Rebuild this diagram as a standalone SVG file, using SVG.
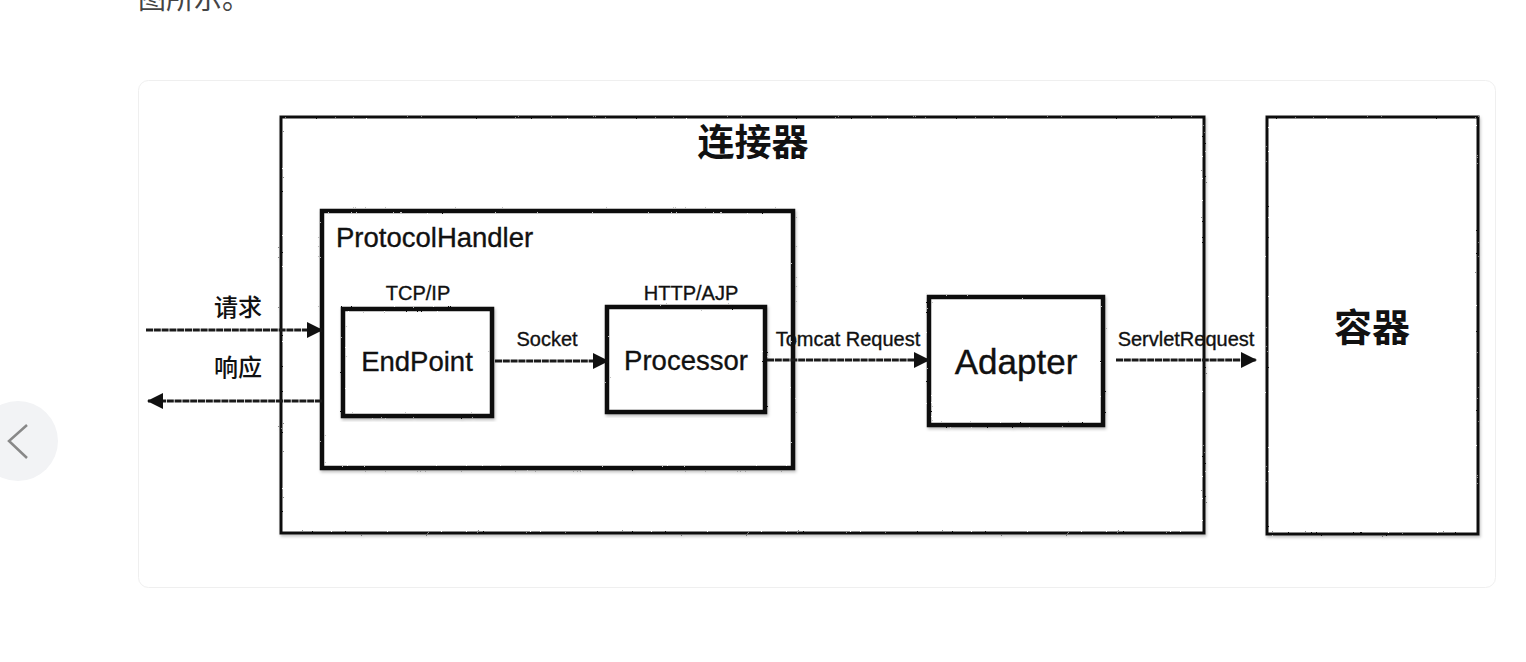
<svg xmlns="http://www.w3.org/2000/svg" width="1526" height="662" viewBox="0 0 1526 662">
<defs>
<style>
.box{fill:#fff;stroke:#111;stroke-width:4.5;filter:url(#rough)}
.thin{fill:#fff;stroke:#111;stroke-width:3;filter:url(#rough)}
.lbl{font-family:"Liberation Sans","Noto Sans CJK SC",sans-serif;fill:#111;stroke:#111;stroke-width:0.35}
.cjk{font-family:"Noto Sans CJK SC",sans-serif;fill:#111}
.edge{stroke:#1a1a1a;stroke-width:2.8;fill:none;stroke-dasharray:7 0.8}
</style>
<filter id="rough" x="-5%" y="-5%" width="110%" height="110%">
<feTurbulence type="fractalNoise" baseFrequency="0.8" numOctaves="2" seed="3" result="n"/>
<feDisplacementMap in="SourceGraphic" in2="n" scale="1.8" xChannelSelector="R" yChannelSelector="G" result="d"/>
<feDropShadow dx="1" dy="2" stdDeviation="1.5" flood-color="#000" flood-opacity="0.25"/>
</filter>
<marker id="ah" viewBox="0 0 16 16" refX="15" refY="8" markerWidth="16" markerHeight="16" markerUnits="userSpaceOnUse" orient="auto">
<path d="M0,0 L16,8 L0,16 Z" fill="#111"/>
</marker>
</defs>
<rect width="1526" height="662" fill="#fff"/>
<text x="138" y="9" font-family="Noto Sans CJK SC,sans-serif" font-size="28" fill="#444">图所示。</text>
<rect x="138.5" y="80.5" width="1357" height="507" rx="10" fill="#fff" stroke="#efefef"/>
<g id="nav">
<circle cx="18" cy="441" r="40" fill="#f2f3f5"/>
<polyline points="27,425 9,441 27,458" fill="none" stroke="#888" stroke-width="2.5"/>
</g>
<g id="connector">
<rect class="thin" x="281" y="117" width="923" height="416"/>
<text class="cjk" x="753" y="156" font-size="37" font-weight="600" text-anchor="middle">连接器</text>
</g>
<g id="protocolhandler">
<rect class="box" x="322" y="211" width="471" height="257"/>
<text class="lbl" x="336" y="247" font-size="27.5">ProtocolHandler</text>
</g>
<g id="endpoint">
<rect class="box" x="343" y="309" width="149" height="107"/>
<text class="lbl" x="417" y="371" font-size="27.5" text-anchor="middle">EndPoint</text>
<text class="lbl" x="418" y="300" font-size="20" text-anchor="middle">TCP/IP</text>
</g>
<g id="processor">
<rect class="box" x="607" y="307" width="158" height="105"/>
<text class="lbl" x="686" y="370" font-size="27.5" text-anchor="middle">Processor</text>
<text class="lbl" x="691" y="300" font-size="20" text-anchor="middle">HTTP/AJP</text>
</g>
<g id="adapter">
<rect class="box" x="929" y="297" width="174" height="128"/>
<text class="lbl" x="1016" y="374" font-size="35" text-anchor="middle">Adapter</text>
</g>
<g id="container">
<rect class="thin" x="1267" y="117" width="211" height="417"/>
<text class="cjk" x="1372" y="341" font-size="38" font-weight="600" text-anchor="middle">容器</text>
</g>
<g id="connectors">
<line class="edge" x1="146" y1="330" x2="322" y2="330" marker-end="url(#ah)"/>
<line class="edge" x1="322" y1="401" x2="148" y2="401" marker-end="url(#ah)"/>
<line class="edge" x1="495" y1="361" x2="608" y2="361" marker-end="url(#ah)"/>
<line class="edge" x1="767" y1="360" x2="929" y2="360" marker-end="url(#ah)"/>
<line class="edge" x1="1116" y1="360" x2="1256" y2="360" marker-end="url(#ah)"/>
<text class="cjk" x="238" y="316" font-size="24" font-weight="500" text-anchor="middle">请求</text>
<text class="cjk" x="238" y="376" font-size="24" font-weight="500" text-anchor="middle">响应</text>
<text class="lbl" x="547" y="346" font-size="20" text-anchor="middle">Socket</text>
<text class="lbl" x="848" y="346" font-size="20" text-anchor="middle">Tomcat Request</text>
<text class="lbl" x="1186" y="346" font-size="20" text-anchor="middle">ServletRequest</text>
</g>
</svg>
